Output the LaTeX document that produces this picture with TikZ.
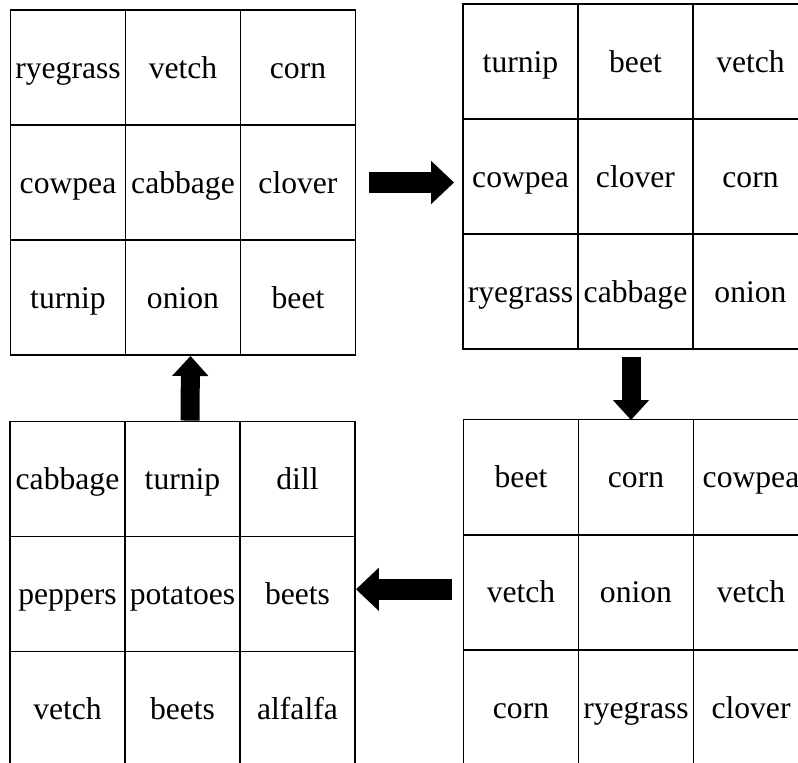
\documentclass[tikz,border=0pt]{standalone}
\usepackage{fontspec}
\setmainfont{Liberation Serif}
\usetikzlibrary{arrows.meta,calc}

\begin{document}
\begin{tikzpicture}[
  x=0.02cm, y=-0.02cm,
  cell/.style={draw, line width=1.1pt, minimum width=2.3cm, minimum height=2.3cm, inner sep=0pt,
    text height=14pt, text depth=2pt, font=\fontsize{18}{20}\selectfont},
  harr/.style={-{Triangle[width=0.84cm, length=0.46cm]}, line width=0.43cm},
  varr/.style={-{Triangle[width=0.70cm, length=0.40cm]}, line width=0.38cm}
]
\clip (0,0) rectangle (798,763);
% four rotation plots, three by three
\foreach \txt [count=\i from 0] in {ryegrass,vetch,corn,cowpea,cabbage,clover,turnip,onion,beet}
  \node[cell] (tl\i) at ({10.5+57.5+115*mod(\i,3)},{10+57.5+115*int(\i/3)}) {\txt};
\foreach \txt [count=\i from 0] in {turnip,beet,vetch,cowpea,clover,corn,ryegrass,cabbage,onion}
  \node[cell] (tr\i) at ({463+57.5+115*mod(\i,3)},{4+57.5+115*int(\i/3)}) {\txt};
\foreach \txt [count=\i from 0] in {beet,corn,cowpea,vetch,onion,vetch,corn,ryegrass,clover}
  \node[cell] (br\i) at ({463.5+57.5+115*mod(\i,3)},{419.5+57.5+115.3*int(\i/3)}) {\txt};
\foreach \txt [count=\i from 0] in {cabbage,turnip,dill,peppers,potatoes,beets,vetch,beets,alfalfa}
  \node[cell] (bl\i) at ({10+57.5+115*mod(\i,3)},{421.5+57.5+115*int(\i/3)}) {\txt};
% block arrows between the plots
\draw[harr] ($(tl5.east)+(13,0)$) -- ($(tl5.east -| tr3.west)+(-8,0)$);
\draw[varr] ($(tr7.south)+(-4.5,7.5)$) -- ($(tr7.south |- br1.north)+(-4.5,1.5)$);
\draw[harr] ($(br3.west)+(-11,-3)$) -- ($(br3.west -| bl5.east)+(0,-3)$);
\draw[varr] ($(bl1.north)+(7.5,0)$) -- ($(tl7.south)+(7.5,0)$);
\end{tikzpicture}
\end{document}
